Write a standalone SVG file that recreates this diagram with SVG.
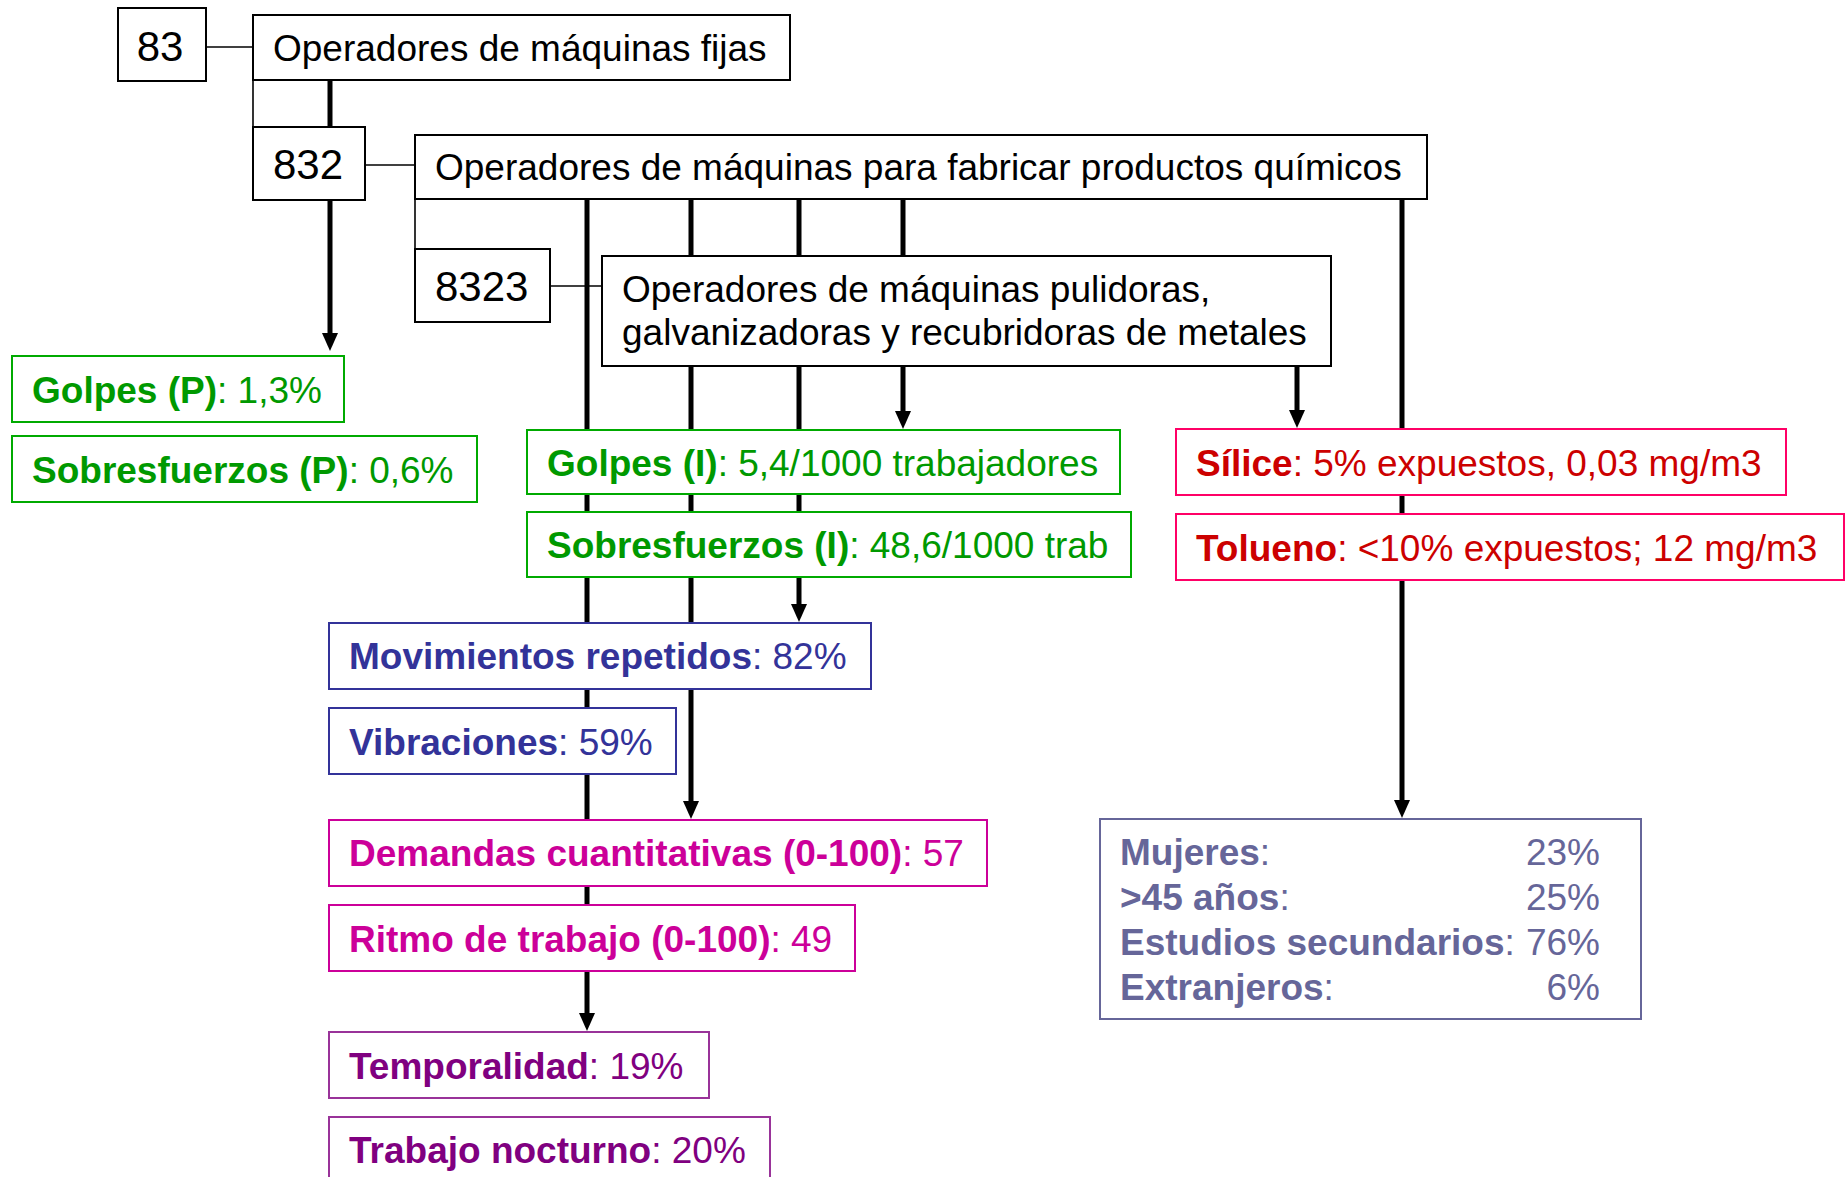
<svg xmlns="http://www.w3.org/2000/svg" width="1847" height="1177" viewBox="0 0 1847 1177">
<defs>
<marker id="ah" markerUnits="userSpaceOnUse" markerWidth="18" markerHeight="16" refX="0" refY="8" orient="auto">
<path d="M0,0 L18,8 L0,16 z" fill="#000"/>
</marker>
<style>
text{font-family:"Liberation Sans",Arial,sans-serif;font-size:37px}
.num{font-size:42px}
.b{font-weight:bold}
.box{fill:#fff;stroke:#000;stroke-width:2}
.thin{stroke:#000;stroke-width:1.6;fill:none}
.thick{stroke:#000;stroke-width:5;fill:none}
.g rect{fill:#fff;stroke:#00aa00;stroke-width:2}
.g text{fill:#009900}
.r rect{fill:#fff;stroke:#ff0066;stroke-width:2}
.r text{fill:#cc0000}
.bl rect{fill:#fff;stroke:#333399;stroke-width:2}
.bl text{fill:#333399}
.m rect{fill:#fff;stroke:#cc0099;stroke-width:2}
.m text{fill:#cc0099}
.p rect{fill:#fff;stroke:#993399;stroke-width:2}
.p text{fill:#800080}
.d rect{fill:#fff;stroke:#666699;stroke-width:2}
.d text{fill:#666699}
</style>
</defs>
<rect width="1847" height="1177" fill="#fff"/>
<g id="connectors">
<line class="thin" x1="206" y1="47" x2="253" y2="47"/>
<line class="thin" x1="253" y1="80" x2="253" y2="127"/>
<line class="thick" x1="330" y1="80" x2="330" y2="127"/>
<line class="thin" x1="365" y1="165" x2="415" y2="165"/>
<line class="thin" x1="415" y1="199" x2="415" y2="249"/>
<line class="thin" x1="550" y1="286" x2="602" y2="286"/>
<line class="thick" x1="330" y1="200" x2="330" y2="333" marker-end="url(#ah)"/>
<line class="thick" x1="587" y1="199" x2="587" y2="1013" marker-end="url(#ah)"/>
<line class="thick" x1="691" y1="199" x2="691" y2="801" marker-end="url(#ah)"/>
<line class="thick" x1="799" y1="199" x2="799" y2="604" marker-end="url(#ah)"/>
<line class="thick" x1="903" y1="199" x2="903" y2="411" marker-end="url(#ah)"/>
<line class="thick" x1="1297" y1="366" x2="1297" y2="410" marker-end="url(#ah)"/>
<line class="thick" x1="1402" y1="199" x2="1402" y2="800" marker-end="url(#ah)"/>
</g>
<g id="n83"><rect class="box" x="118" y="8" width="88" height="73"/><text class="num" x="160" y="61" text-anchor="middle">83</text></g>
<g id="n83t"><rect class="box" x="253" y="15" width="537" height="65"/><text x="273" y="61">Operadores de máquinas fijas</text></g>
<g id="n832"><rect class="box" x="253" y="127" width="112" height="73"/><text class="num" x="273" y="179">832</text></g>
<g id="n832t"><rect class="box" x="415" y="135" width="1012" height="64"/><text x="435" y="180">Operadores de máquinas para fabricar productos químicos</text></g>
<g id="n8323"><rect class="box" x="415" y="249" width="135" height="73"/><text class="num" x="435" y="301">8323</text></g>
<g id="n8323t"><rect class="box" x="602" y="256" width="729" height="110"/><text x="622" y="302">Operadores de máquinas pulidoras,</text><text x="622" y="345">galvanizadoras y recubridoras de metales</text></g>
<g id="golpesP" class="g"><rect x="12" y="356" width="332" height="66"/><text x="32" y="403"><tspan class="b">Golpes (P)</tspan>: 1,3%</text></g>
<g id="sobreP" class="g"><rect x="12" y="436" width="465" height="66"/><text x="32" y="483"><tspan class="b">Sobresfuerzos (P)</tspan>: 0,6%</text></g>
<g id="golpesI" class="g"><rect x="527" y="430" width="593" height="64"/><text x="547" y="476"><tspan class="b">Golpes (I)</tspan>: 5,4/1000 trabajadores</text></g>
<g id="sobreI" class="g"><rect x="527" y="512" width="604" height="65"/><text x="547" y="558"><tspan class="b">Sobresfuerzos (I)</tspan>: 48,6/1000 trab</text></g>
<g id="silice" class="r"><rect x="1176" y="429" width="610" height="66"/><text x="1196" y="476"><tspan class="b">Sílice</tspan>: 5% expuestos, 0,03 mg/m3</text></g>
<g id="tolueno" class="r"><rect x="1176" y="514" width="668" height="66"/><text x="1196" y="561"><tspan class="b">Tolueno</tspan>: &lt;10% expuestos; 12 mg/m3</text></g>
<g id="mov" class="bl"><rect x="329" y="623" width="542" height="66"/><text x="349" y="669"><tspan class="b">Movimientos repetidos</tspan>: 82%</text></g>
<g id="vib" class="bl"><rect x="329" y="708" width="347" height="66"/><text x="349" y="755"><tspan class="b">Vibraciones</tspan>: 59%</text></g>
<g id="dem" class="m"><rect x="329" y="820" width="658" height="66"/><text x="349" y="866"><tspan class="b">Demandas cuantitativas (0-100)</tspan>: 57</text></g>
<g id="ritmo" class="m"><rect x="329" y="905" width="526" height="66"/><text x="349" y="952"><tspan class="b">Ritmo de trabajo (0-100)</tspan>: 49</text></g>
<g id="temp" class="p"><rect x="329" y="1032" width="380" height="66"/><text x="349" y="1079"><tspan class="b">Temporalidad</tspan>: 19%</text></g>
<g id="noct" class="p"><rect x="329" y="1117" width="441" height="70"/><text x="349" y="1163"><tspan class="b">Trabajo nocturno</tspan>: 20%</text></g>
<g id="demo" class="d"><rect x="1100" y="819" width="541" height="200"/>
<text x="1120" y="865"><tspan class="b">Mujeres</tspan>:</text><text x="1600" y="865" text-anchor="end">23%</text>
<text x="1120" y="910"><tspan class="b">&gt;45 años</tspan>:</text><text x="1600" y="910" text-anchor="end">25%</text>
<text x="1120" y="955"><tspan class="b">Estudios secundarios</tspan>:</text><text x="1600" y="955" text-anchor="end">76%</text>
<text x="1120" y="1000"><tspan class="b">Extranjeros</tspan>:</text><text x="1600" y="1000" text-anchor="end">6%</text>
</g>
</svg>
